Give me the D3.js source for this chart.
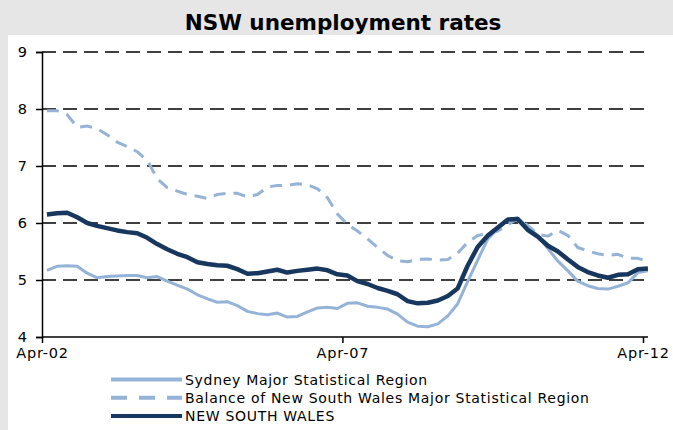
<!DOCTYPE html>
<html><head><meta charset="utf-8">
<script src="https://cdn.jsdelivr.net/npm/d3@7"></script>
<style>
html,body{margin:0;padding:0;background:#e6e6e6;}
svg{display:block;}
</style></head>
<body>
<svg id="chart" width="673" height="430"></svg>
<script>
// Observation dates: every second month from Apr-02 to Apr-12, plus May-12
const dates = d3.timeMonth.every(2).range(new Date(2002, 3, 1), new Date(2012, 4, 1)).concat([new Date(2012, 4, 1)]);

const sydney = [
  5.17, 5.24, 5.25, 5.24, 5.12, 5.04, 5.06, 5.07, 5.08, 5.08,
  5.04, 5.06, 4.98, 4.91, 4.84, 4.74, 4.67, 4.61, 4.62, 4.55,
  4.45, 4.41, 4.39, 4.42, 4.35, 4.36, 4.44, 4.51, 4.52, 4.50,
  4.59, 4.60, 4.54, 4.52, 4.49, 4.40, 4.26, 4.19, 4.18, 4.23,
  4.37, 4.58, 4.97, 5.35, 5.72, 5.90, 6.06, 6.09, 5.93, 5.78,
  5.55, 5.33, 5.16, 4.98, 4.90, 4.85, 4.84, 4.89, 4.95, 5.13,
  5.16, 5.15
];
const balance = [
  7.97, 7.97, 7.90, 7.68, 7.70, 7.66, 7.55, 7.42, 7.34, 7.25,
  7.10, 6.78, 6.62, 6.56, 6.50, 6.47, 6.43, 6.50, 6.52, 6.52,
  6.46, 6.50, 6.63, 6.66, 6.66, 6.69, 6.67, 6.60, 6.44, 6.16,
  5.98, 5.86, 5.72, 5.57, 5.43, 5.34, 5.32, 5.36, 5.37, 5.35,
  5.36, 5.47, 5.66, 5.78, 5.82, 5.86, 5.97, 6.08, 5.96, 5.80,
  5.77, 5.87, 5.78, 5.57, 5.51, 5.46, 5.43, 5.45, 5.38, 5.38,
  5.33, 5.23
];
const nsw = [
  6.15, 6.17, 6.18, 6.10, 6.00, 5.95, 5.91, 5.87, 5.84, 5.82,
  5.74, 5.63, 5.54, 5.46, 5.40, 5.31, 5.28, 5.26, 5.25, 5.19,
  5.11, 5.12, 5.15, 5.18, 5.13, 5.16, 5.18, 5.20, 5.17, 5.10,
  5.08, 4.98, 4.93, 4.86, 4.81, 4.75, 4.63, 4.59, 4.60, 4.64,
  4.72, 4.85, 5.25, 5.58, 5.78, 5.92, 6.06, 6.07, 5.88, 5.76,
  5.60, 5.50, 5.36, 5.23, 5.14, 5.08, 5.04, 5.09, 5.10, 5.19,
  5.20, 5.18
];
const yTicks = [4, 5, 6, 7, 8, 9];
const xTickDates = [new Date(2002, 3, 1), new Date(2007, 3, 1), new Date(2012, 3, 1)];
const xTickLabels = ["Apr-02", "Apr-07", "Apr-12"];
const seriesNames = ["Sydney Major Statistical Region", "Balance of New South Wales Major Statistical Region", "NEW SOUTH WALES"];
const title = "NSW unemployment rates";

const svg = d3.select("#chart");
const font = "'DejaVu Sans', Verdana, sans-serif";
const light = "#95b3d7", dark = "#17375e";

// white panel
svg.append("rect").attr("x", 8).attr("y", 35).attr("width", 665).attr("height", 395).attr("fill", "#fff");

svg.append("text").attr("x", 343).attr("y", 30).attr("text-anchor", "middle")
  .attr("font-family", font).attr("font-weight", "bold").attr("font-size", 21.5).attr("fill", "#000").text(title);

const x = d3.scaleTime().domain([new Date(2002, 3, 1), new Date(2012, 3, 1)]).range([42, 643]);
const y = d3.scaleLinear().domain([4, 9]).range([337, 52]);

// gridlines
svg.append("g").selectAll("line").data(yTicks.filter(d => d > 4)).join("line")
  .attr("x1", 42).attr("x2", 648).attr("y1", d => y(d)).attr("y2", d => y(d))
  .attr("stroke", "#000").attr("stroke-width", 1.5).attr("stroke-dasharray", "14,7");

// y axis
const yAxis = svg.append("g").attr("transform", "translate(42,0)")
  .call(d3.axisLeft(y).tickValues(yTicks).tickFormat(d3.format("d")).tickSize(6).tickPadding(9));
yAxis.select(".domain").attr("stroke", "#000").attr("stroke-width", 1.5);
yAxis.selectAll(".tick line").attr("stroke", "#000").attr("stroke-width", 1.5);
yAxis.selectAll("text").attr("font-family", font).attr("font-size", 14.5).attr("fill", "#000");

// x axis
const xAxis = svg.append("g").attr("transform", "translate(0,337)")
  .call(d3.axisBottom(x).tickValues(xTickDates).tickFormat((d, i) => xTickLabels[i]).tickSize(6).tickSizeOuter(0).tickPadding(5));
xAxis.select(".domain").attr("d", "M42,0H648").attr("stroke", "#000").attr("stroke-width", 1.5);
xAxis.selectAll(".tick line").attr("stroke", "#000").attr("stroke-width", 1.5);
xAxis.selectAll("text").attr("font-family", font).attr("font-size", 14.5).attr("letter-spacing", 0.8).attr("fill", "#000");

const line = d3.line().x((d, i) => x(dates[i])).y(d => y(d)).curve(d3.curveLinear);

svg.append("path").datum(sydney).attr("d", line).attr("fill", "none")
  .attr("stroke", light).attr("stroke-width", 3).attr("stroke-linejoin", "round");
svg.append("path").datum(balance).attr("d", line).attr("fill", "none")
  .attr("stroke", light).attr("stroke-width", 3).attr("stroke-dasharray", "12,8").attr("stroke-linejoin", "round");
svg.append("path").datum(nsw).attr("d", line).attr("fill", "none")
  .attr("stroke", dark).attr("stroke-width", 4.5).attr("stroke-linejoin", "round");

// legend
const styles = [
  {stroke: light, w: 4, dash: null},
  {stroke: light, w: 4, dash: "16,12"},
  {stroke: dark, w: 4, dash: null}
];
const lg = svg.append("g");
seriesNames.forEach((name, i) => {
  const yy = 379.5 + i * 18.3;
  lg.append("line").attr("x1", 111).attr("x2", 182).attr("y1", yy).attr("y2", yy)
    .attr("stroke", styles[i].stroke).attr("stroke-width", styles[i].w)
    .attr("stroke-dasharray", styles[i].dash);
  lg.append("text").attr("x", 185).attr("y", yy + 5).attr("font-family", font)
    .attr("font-size", 14).attr("letter-spacing", 0.7).attr("fill", "#000").text(name);
});
</script>
</body></html>
